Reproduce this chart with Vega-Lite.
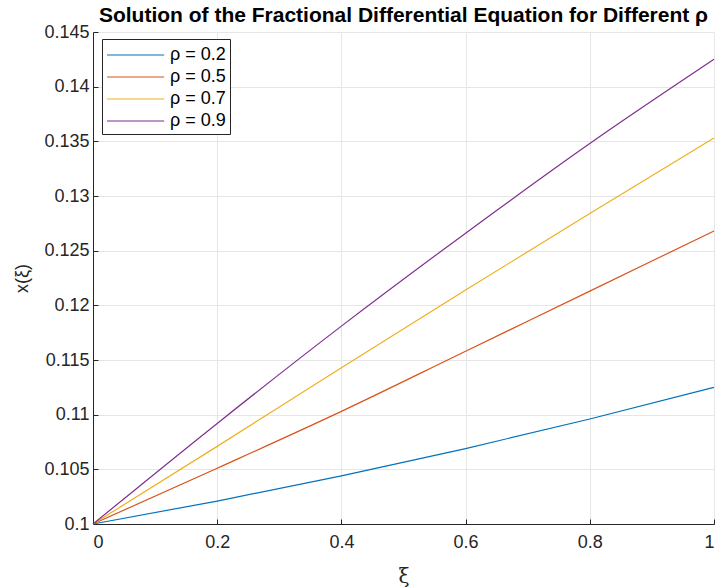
{
  "$schema": "https://vega.github.io/schema/vega-lite/v6.json",
  "width": 621,
  "height": 492,
  "autosize": {"type": "none"},
  "padding": {"left": 93, "top": 32, "right": 4, "bottom": 63},
  "background": "white",
  "config": {
    "font": "Liberation Sans",
    "view": {"stroke": null}
  },
  "title": {
    "text": "Solution of the Fractional Differential Equation for Different ρ",
    "anchor": "middle",
    "fontSize": 21,
    "fontWeight": "bold",
    "color": "black",
    "offset": -3
  },
  "data": {
    "values": [
      {"xi": 0.0, "x": 0.1, "rho": "ρ = 0.2"},
      {"xi": 0.2, "x": 0.1021, "rho": "ρ = 0.2"},
      {"xi": 0.4, "x": 0.1044, "rho": "ρ = 0.2"},
      {"xi": 0.6, "x": 0.1069, "rho": "ρ = 0.2"},
      {"xi": 0.8, "x": 0.1096, "rho": "ρ = 0.2"},
      {"xi": 1.0, "x": 0.1125, "rho": "ρ = 0.2"},
      {"xi": 0.0, "x": 0.1, "rho": "ρ = 0.5"},
      {"xi": 0.2, "x": 0.1051, "rho": "ρ = 0.5"},
      {"xi": 0.4, "x": 0.1103, "rho": "ρ = 0.5"},
      {"xi": 0.6, "x": 0.1158, "rho": "ρ = 0.5"},
      {"xi": 0.8, "x": 0.1213, "rho": "ρ = 0.5"},
      {"xi": 1.0, "x": 0.1268, "rho": "ρ = 0.5"},
      {"xi": 0.0, "x": 0.1, "rho": "ρ = 0.7"},
      {"xi": 0.2, "x": 0.1071, "rho": "ρ = 0.7"},
      {"xi": 0.4, "x": 0.1143, "rho": "ρ = 0.7"},
      {"xi": 0.6, "x": 0.1214, "rho": "ρ = 0.7"},
      {"xi": 0.8, "x": 0.1284, "rho": "ρ = 0.7"},
      {"xi": 1.0, "x": 0.1353, "rho": "ρ = 0.7"},
      {"xi": 0.0, "x": 0.1, "rho": "ρ = 0.9"},
      {"xi": 0.2, "x": 0.1092, "rho": "ρ = 0.9"},
      {"xi": 0.4, "x": 0.1181, "rho": "ρ = 0.9"},
      {"xi": 0.6, "x": 0.1266, "rho": "ρ = 0.9"},
      {"xi": 0.8, "x": 0.1348, "rho": "ρ = 0.9"},
      {"xi": 1.0, "x": 0.1425, "rho": "ρ = 0.9"}
    ]
  },
  "mark": {"type": "line", "strokeWidth": 1.2, "interpolate": "monotone"},
  "encoding": {
    "x": {
      "field": "xi",
      "type": "quantitative",
      "scale": {"domain": [0, 1], "nice": false},
      "axis": {
        "title": "ξ",
        "titleFontSize": 20,
        "titleFontWeight": "normal",
        "titleColor": "#262626",
        "titleFont": "DejaVu Serif",
        "titleY": 52,
        "titleBaseline": "middle",
        "values": [0, 0.2, 0.4, 0.6, 0.8, 1],
        "labelExpr": "datum.value == 0 ? '0' : datum.value == 1 ? '1' : format(datum.value, '.1f')",
        "labelFontSize": 18,
        "labelColor": "#262626",
        "labelPadding": 14,
        "labelFlush": 2,
        "tickSize": -5,
        "tickColor": "#262626",
        "domainColor": "#262626",
        "gridColor": "#e6e6e6"
      }
    },
    "y": {
      "field": "x",
      "type": "quantitative",
      "scale": {"domain": [0.1, 0.145], "nice": false, "zero": false},
      "axis": {
        "title": "x(ξ)",
        "titleFontSize": 18,
        "titleFontWeight": "normal",
        "titleColor": "#262626",
        "titleX": -71,
        "titleY": 246,
        "titleAlign": "center",
        "titleBaseline": "middle",
        "values": [0.1, 0.105, 0.11, 0.115, 0.12, 0.125, 0.13, 0.135, 0.14, 0.145],
        "labelExpr": "format(datum.value, '.3~f')",
        "labelFontSize": 18,
        "labelColor": "#262626",
        "labelPadding": 9,
        "labelFlush": false,
        "tickSize": -5,
        "tickColor": "#262626",
        "domainColor": "#262626",
        "gridColor": "#e6e6e6"
      }
    },
    "color": {
      "field": "rho",
      "type": "nominal",
      "scale": {
        "domain": ["ρ = 0.2", "ρ = 0.5", "ρ = 0.7", "ρ = 0.9"],
        "range": ["#0072BD", "#D95319", "#EDB120", "#7E2F8E"]
      },
      "legend": {
        "title": null,
        "orient": "none",
        "legendX": 9,
        "legendY": 7,
        "symbolType": "M-1,0H4.2",
        "symbolSize": 484,
        "symbolStrokeWidth": 1.2,
        "labelFontSize": 18,
        "labelColor": "black",
        "labelOffset": 40,
        "rowPadding": 1,
        "padding": 4,
        "strokeColor": "#262626",
        "fillColor": "white"
      }
    }
  }
}
